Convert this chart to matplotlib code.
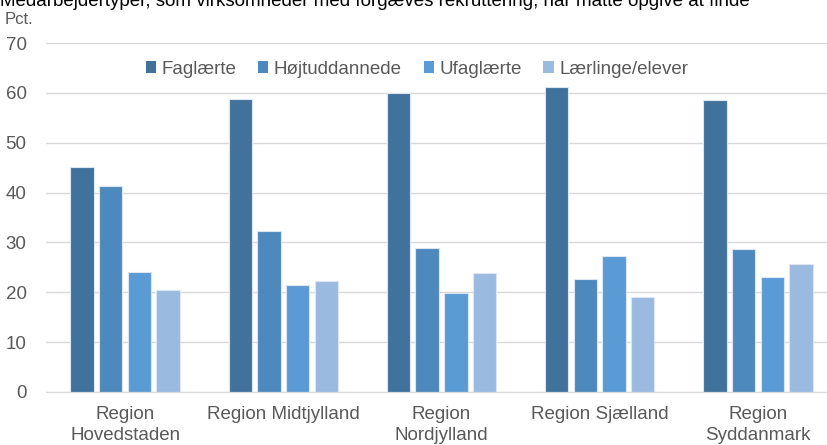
import matplotlib.pyplot as plt
import numpy as np
from matplotlib.patches import Patch

plt.rcParams["font.family"] = ["Liberation Sans", "DejaVu Sans"]

regions = [
    "Region\nHovedstaden",
    "Region Midtjylland",
    "Region\nNordjylland",
    "Region Sjælland",
    "Region\nSyddanmark",
]
series_names = ["Faglærte", "Højtuddannede", "Ufaglærte", "Lærlinge/elever"]
faglaerte = [45.2, 58.8, 60.0, 61.1, 58.6]
hoejtuddannede = [41.4, 32.2, 28.8, 22.7, 28.6]
ufaglaerte = [24.0, 21.5, 19.9, 27.2, 23.1]
laerlinge = [20.5, 22.2, 23.8, 19.1, 25.6]
yticks = [0, 10, 20, 30, 40, 50, 60, 70]

colors = ["#41729C", "#4E89BD", "#5B9BD5", "#9BBAE0"]
text_gray = "#595959"
fs = 13.5

fig = plt.figure(figsize=(8.28, 4.45), dpi=100)
ax = fig.add_axes([46 / 828, 1 - 392 / 445, (837 - 46) / 828, (392 - 43) / 445])

x = np.arange(len(regions))
pitch = 0.181
values = [faglaerte, hoejtuddannede, ufaglaerte, laerlinge]
for i, (vals, col) in enumerate(zip(values, colors)):
    ax.bar(x + (i - 1.5) * pitch, vals, width=0.148, color=col,
           edgecolor="#DCE6F2", linewidth=0.8, zorder=3)

ax.set_xlim(-0.5, 4.5)
ax.set_ylim(0, 70)
ax.set_yticks(yticks)
ax.set_xticks(x)
ax.set_xticklabels(regions, fontsize=fs, color=text_gray, linespacing=1.3)
ax.tick_params(axis="y", length=0, pad=14, labelsize=fs, labelcolor=text_gray)
ax.tick_params(axis="x", length=0, pad=10)
ax.grid(axis="y", color="#D9D9D9", linewidth=1, zorder=0)
for side in ["top", "right", "left"]:
    ax.spines[side].set_visible(False)
ax.spines["bottom"].set_color("#D9D9D9")
ax.spines["bottom"].set_zorder(4)

handles = [Patch(facecolor=c, edgecolor="none") for c in colors]
fig.legend(handles, series_names, loc="center", ncol=4,
           bbox_to_anchor=(417 / 828, 1 - 69 / 445), frameon=False,
           fontsize=fs, labelcolor=text_gray, handlelength=0.55,
           handleheight=0.55, handletextpad=0.3, columnspacing=1.15)

fig.text(5 / 828, 1 - 20 / 445, "Pct.", fontsize=12, color=text_gray,
         ha="left", va="center")
fig.text(0, 1 - 6 / 445,
         "Medarbejdertyper, som virksomheder med forgæves rekruttering, har måtte opgive at finde",
         fontsize=fs, color="black", ha="left", va="baseline")

fig.savefig("out.png", dpi=100)
